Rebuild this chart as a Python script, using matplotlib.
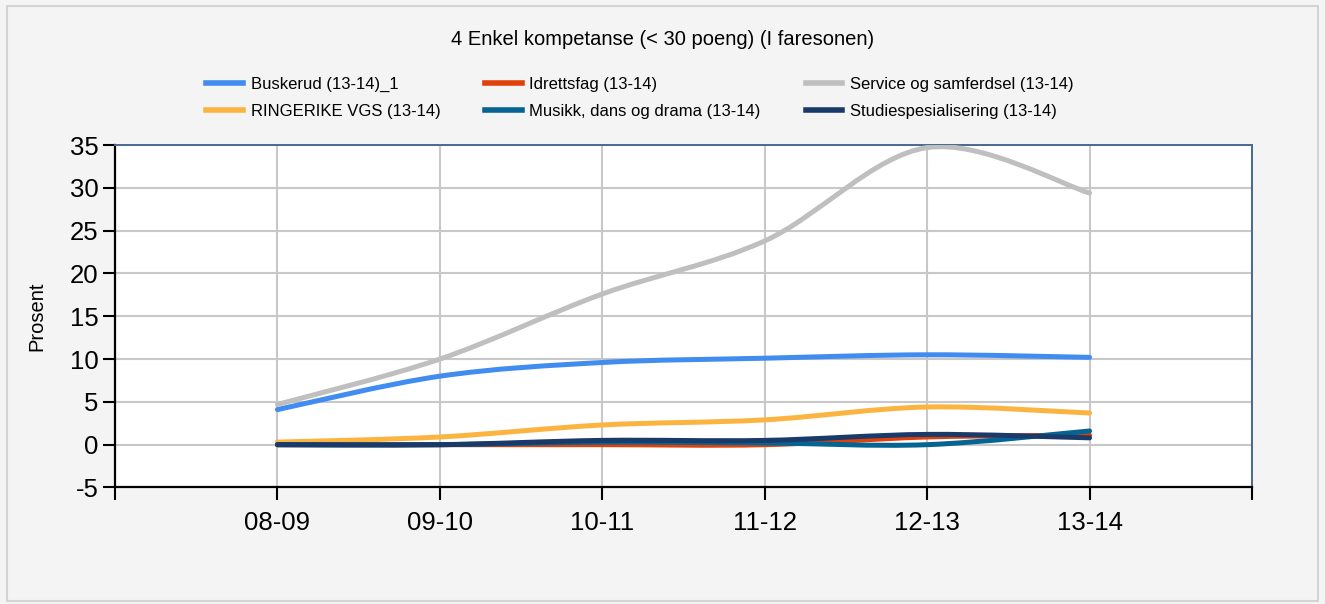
import numpy as np
import matplotlib
matplotlib.use("Agg")
import matplotlib.pyplot as plt
from matplotlib.path import Path
from matplotlib.patches import PathPatch, Rectangle
from matplotlib.lines import Line2D

# school years on the x axis
years = ['08-09', '09-10', '10-11', '11-12', '12-13', '13-14']

# percent values
buskerud = [4.1, 8.0, 9.6, 10.1, 10.5, 10.2]
ringerike = [0.3, 0.9, 2.3, 2.9, 4.4, 3.7]
idrettsfag = [0.0, 0.0, 0.0, 0.0, 0.9, 1.1]
musikk = [0.0, 0.0, 0.3, 0.2, 0.0, 1.6]
service = [4.7, 10.0, 17.6, 23.8, 34.7, 29.4]
studiespes = [0.0, 0.0, 0.5, 0.5, 1.2, 0.8]

series = [
    ('Buskerud (13-14)_1', buskerud, '#418CF0'),
    ('RINGERIKE VGS (13-14)', ringerike, '#FCB441'),
    ('Idrettsfag (13-14)', idrettsfag, '#E0400A'),
    ('Musikk, dans og drama (13-14)', musikk, '#056492'),
    ('Service og samferdsel (13-14)', service, '#BFBFBF'),
    ('Studiespesialisering (13-14)', studiespes, '#1A3B69'),
]


def spline_path(xs, ys, tension=0.5):
    # cardinal spline through the points, as cubic bezier segments
    p = np.column_stack([xs, ys]).astype(float)
    n = len(p)
    verts = [p[0]]
    codes = [Path.MOVETO]
    for i in range(n - 1):
        prev = p[i - 1] if i > 0 else p[i]
        nxt = p[i + 2] if i + 2 < n else p[i + 1]
        c1 = p[i] + tension / 3 * (p[i + 1] - prev)
        c2 = p[i + 1] - tension / 3 * (nxt - p[i])
        verts += [c1, c2, p[i + 1]]
        codes += [Path.CURVE4] * 3
    return Path(verts, codes)


plt.rcParams['font.family'] = ['Liberation Sans', 'DejaVu Sans']
plt.rcParams['axes.unicode_minus'] = False

fig = plt.figure(figsize=(13.25, 6.04), dpi=100, facecolor='#f4f4f4')
fig.patches.append(Rectangle((0.005, 0.005), 0.99, 0.985, transform=fig.transFigure,
                             fill=False, edgecolor='#d4d4d4', lw=1.5))
ax = fig.add_axes([0.0868, 0.1929, 0.8581, 0.567])
ax.set_facecolor('white')

x = np.arange(1, len(years) + 1)
handles = []
for name, vals, col in series:
    path = spline_path(x, vals)
    ax.add_patch(PathPatch(path, facecolor='none', edgecolor=col, lw=3.6,
                           capstyle='round', joinstyle='round', zorder=3))
    handles.append(Line2D([], [], color=col, lw=4, label=name))

ax.set_xlim(0, 7)
ax.set_ylim(-5, 35)
ax.set_xticks(range(0, 8))
ax.set_xticklabels([''] + years + [''])
ax.set_yticks(range(-5, 36, 5))
ax.tick_params(axis='both', direction='out', length=9, width=1.5, labelsize=18.5, colors='black')
ax.tick_params(axis='x', pad=8)
ax.tick_params(axis='y', pad=3)
ax.grid(True, color='#c8c8c8', lw=1.5)
ax.set_axisbelow(True)
for s in ['left', 'bottom']:
    ax.spines[s].set_color('black')
    ax.spines[s].set_linewidth(1.6)
for s in ['top', 'right']:
    ax.spines[s].set_color('#4a6890')
    ax.spines[s].set_linewidth(1.4)

ax.set_ylabel('Prosent', fontsize=14.5, labelpad=17)

fig.text(0.5, 0.935, '4 Enkel kompetanse (< 30 poeng) (I faresonen)', ha='center', va='center', fontsize=14.5)
fig.legend(handles=handles, ncol=3, loc='center', bbox_to_anchor=(0.483, 0.838), frameon=False,
           fontsize=12, handlelength=2.2, columnspacing=2.7, handletextpad=0.45, labelspacing=0.75)

fig.savefig('out.png', dpi=100, facecolor=fig.get_facecolor())
